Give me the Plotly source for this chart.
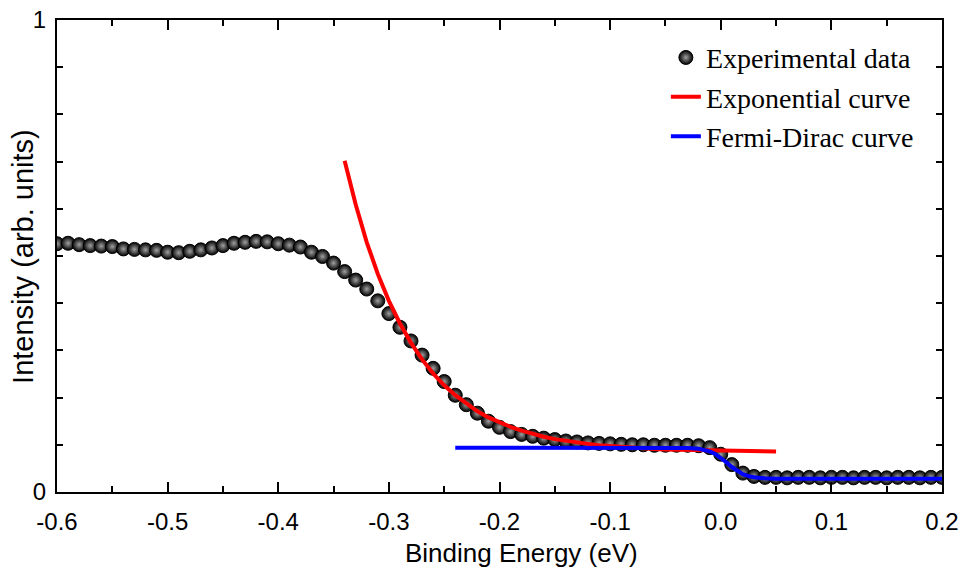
import plotly.graph_objects as go

# Measured photoemission spectrum near the Fermi level
energy = [-0.60, -0.59, -0.58, -0.57, -0.56, -0.55, -0.54, -0.53, -0.52, -0.51,
          -0.50, -0.49, -0.48, -0.47, -0.46, -0.45, -0.44, -0.43, -0.42, -0.41,
          -0.40, -0.39, -0.38, -0.37, -0.36, -0.35, -0.34, -0.33, -0.32, -0.31,
          -0.30, -0.29, -0.28, -0.27, -0.26, -0.25, -0.24, -0.23, -0.22, -0.21,
          -0.20, -0.19, -0.18, -0.17, -0.16, -0.15, -0.14, -0.13, -0.12, -0.11,
          -0.10, -0.09, -0.08, -0.07, -0.06, -0.05, -0.04, -0.03, -0.02, -0.01,
          0.00, 0.01, 0.02, 0.03, 0.04, 0.05, 0.06, 0.07, 0.08, 0.09,
          0.10, 0.11, 0.12, 0.13, 0.14, 0.15, 0.16, 0.17, 0.18, 0.19, 0.20]
intensity = [0.526, 0.527, 0.524, 0.522, 0.521, 0.520, 0.515, 0.514, 0.513, 0.512,
             0.508, 0.507, 0.510, 0.513, 0.517, 0.522, 0.527, 0.529, 0.531, 0.530,
             0.526, 0.523, 0.519, 0.508, 0.499, 0.485, 0.467, 0.449, 0.430, 0.405,
             0.378, 0.349, 0.320, 0.290, 0.262, 0.234, 0.205, 0.185, 0.167, 0.150,
             0.137, 0.128, 0.122, 0.118, 0.114, 0.111, 0.108, 0.106, 0.104, 0.103,
             0.102, 0.101, 0.100, 0.100, 0.099, 0.099, 0.099, 0.099, 0.098, 0.094,
             0.080, 0.058, 0.040, 0.033, 0.031, 0.031, 0.030, 0.031, 0.031, 0.030,
             0.031, 0.031, 0.030, 0.031, 0.031, 0.030, 0.031, 0.031, 0.030, 0.031, 0.031]

# Exponential fit to the leading edge
exp_energy = [-0.34, -0.33, -0.32, -0.31, -0.30, -0.29, -0.28, -0.27, -0.26, -0.25,
              -0.24, -0.23, -0.22, -0.21, -0.20, -0.19, -0.18, -0.17, -0.16, -0.15,
              -0.14, -0.13, -0.12, -0.11, -0.10, -0.09, -0.08, -0.07, -0.06, -0.05,
              -0.04, -0.03, -0.02, -0.01, 0.00, 0.01, 0.02, 0.03, 0.04, 0.05]
exp_intensity = [0.702, 0.609, 0.529, 0.462, 0.405, 0.357, 0.316, 0.281, 0.251, 0.226,
                 0.205, 0.187, 0.171, 0.158, 0.147, 0.138, 0.130, 0.123, 0.117, 0.112,
                 0.108, 0.105, 0.102, 0.099, 0.097, 0.095, 0.094, 0.092, 0.091, 0.090,
                 0.0895, 0.089, 0.088, 0.088, 0.087, 0.087, 0.087, 0.086, 0.086, 0.086]

# Fermi-Dirac fit across the Fermi edge
fd_energy = [-0.24, -0.20, -0.15, -0.10, -0.05, -0.03, -0.02, -0.01, -0.005, 0.00,
             0.005, 0.01, 0.015, 0.02, 0.025, 0.03, 0.04, 0.05, 0.10, 0.15, 0.20]
fd_intensity = [0.094, 0.094, 0.094, 0.094, 0.094, 0.0933, 0.0916, 0.0861, 0.0807, 0.0728,
                0.0630, 0.0529, 0.0442, 0.0378, 0.0336, 0.0311, 0.0289, 0.0282, 0.028, 0.028, 0.028]

x_ticks = [-0.6, -0.5, -0.4, -0.3, -0.2, -0.1, 0.0, 0.1, 0.2]
x_tick_labels = ["-0.6", "-0.5", "-0.4", "-0.3", "-0.2", "-0.1", "0.0", "0.1", "0.2"]
x_minor = [-0.55, -0.45, -0.35, -0.25, -0.15, -0.05, 0.05, 0.15]
y_ticks = [0, 1]
y_tick_labels = ["0", "1"]
y_minor = [0.1, 0.2, 0.3, 0.4, 0.5, 0.6, 0.7, 0.8, 0.9]

fig = go.Figure()

fig.add_trace(go.Scatter(
    x=energy, y=intensity, mode="markers", name="Experimental data",
    marker=dict(size=14, color="#000000",
                gradient=dict(type="radial", color="#a0a0a0"),
                line=dict(width=1, color="#000000")),
))
fig.add_trace(go.Scatter(
    x=exp_energy, y=exp_intensity, mode="lines", name="Exponential curve",
    line=dict(color="#ff0000", width=4),
))
fig.add_trace(go.Scatter(
    x=fd_energy, y=fd_intensity, mode="lines", name="Fermi-Dirac curve",
    line=dict(color="#0000ff", width=4),
))

sans = "Liberation Sans, Arial, sans-serif"
tick_font = dict(family=sans, size=24, color="#000000")

fig.update_layout(
    width=963, height=574,
    margin=dict(l=57, r=21, t=20, b=82, autoexpand=False),
    paper_bgcolor="#ffffff", plot_bgcolor="#ffffff",
    showlegend=True,
    legend=dict(
        x=0.688, y=0.973, xanchor="left", yanchor="top",
        bgcolor="rgba(0,0,0,0)",
        font=dict(family="Liberation Serif, Times New Roman, serif", size=28, color="#000000"),
        itemwidth=30, tracegroupgap=0,
    ),
    xaxis=dict(
        range=[-0.6, 0.2], showgrid=False, zeroline=False, automargin=False,
        showline=True, linecolor="#000000", linewidth=2, mirror="ticks",
        ticks="inside", ticklen=10, tickwidth=2, tickcolor="#000000",
        tickmode="array", tickvals=x_ticks, ticktext=x_tick_labels,
        tickfont=tick_font, ticklabelstandoff=7,
        minor=dict(tickmode="array", tickvals=x_minor, ticks="inside",
                   ticklen=6, tickwidth=2, tickcolor="#000000", showgrid=False),
    ),
    yaxis=dict(
        range=[0, 1], showgrid=False, zeroline=False, automargin=False,
        showline=True, linecolor="#000000", linewidth=2, mirror="ticks",
        ticks="inside", ticklen=10, tickwidth=2, tickcolor="#000000",
        tickmode="array", tickvals=y_ticks, ticktext=y_tick_labels,
        tickfont=tick_font, ticklabelstandoff=4,
        minor=dict(tickmode="array", tickvals=y_minor, ticks="inside",
                   ticklen=6, tickwidth=2, tickcolor="#000000", showgrid=False),
    ),
    annotations=[
        dict(text="Binding Energy (eV)", xref="paper", yref="paper",
             x=0.525, y=-0.13, xanchor="center", yanchor="middle", showarrow=False,
             font=dict(family=sans, size=26, color="#000000")),
        dict(text="Intensity (arb. units)", xref="paper", yref="paper",
             x=-0.0385, y=0.50, xanchor="center", yanchor="middle", showarrow=False,
             textangle=-90, font=dict(family=sans, size=29, color="#000000")),
    ],
)

fig.write_html("out.html")
